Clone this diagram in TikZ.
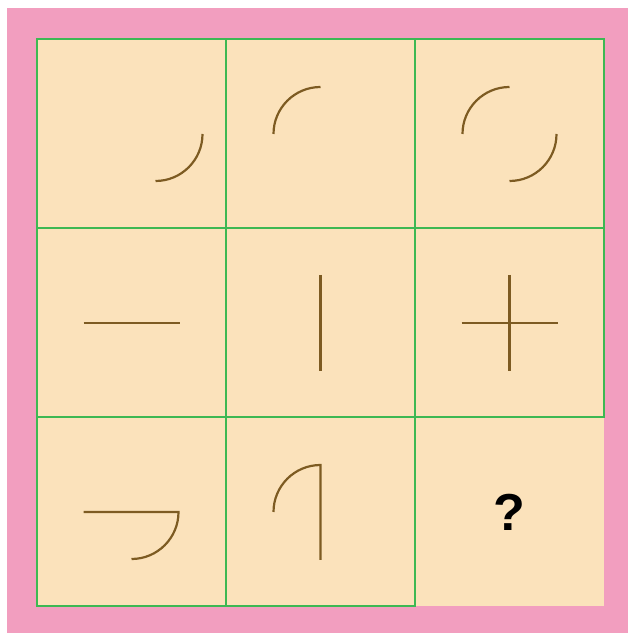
\documentclass[tikz,border=0pt]{standalone}
\usepackage{fontspec}
\newfontfamily\qfont{Liberation Sans}
\usetikzlibrary{positioning}

\definecolor{framepink}{HTML}{F29EBF}
\definecolor{cellbeige}{HTML}{FBE2BB}
\definecolor{gridgreen}{HTML}{3DB853}
\definecolor{penbrown}{HTML}{7D5B22}

\begin{document}
\begin{tikzpicture}[x=1pt, y=1pt,
  cell/.style={draw=gridgreen, line width=2pt, fill=cellbeige,
               minimum size=189pt, inner sep=0pt, outer sep=0pt},
  blank/.style={cell, draw=none},
  piece/.style={draw=penbrown, line width=2.2pt},
  qmark/.style={font=\qfont\bfseries\fontsize{52}{60}\selectfont}
]
  \useasboundingbox (0,0) rectangle (628,633);
  \fill[white] (0,0) rectangle (628,633);
  \fill[framepink] (7,0) rectangle (628,625);

  % the open cell goes first, its left and top edges come from its neighbours
  \node[blank] (c9) at (509.5,121.0) {};
  \node[cell]  (c1) at (131.5,499.0) {};
  \node[cell]  (c2) at (320.5,499.0) {};
  \node[cell]  (c3) at (509.5,499.0) {};
  \node[cell]  (c4) at (131.5,310.0) {};
  \node[cell]  (c5) at (320.5,310.0) {};
  \node[cell]  (c6) at (509.5,310.0) {};
  \node[cell]  (c7) at (131.5,121.0) {};
  \node[cell]  (c8) at (320.5,121.0) {};

  % row 1: arcs
  \draw[piece] ([xshift=24pt, yshift=-47pt]c1.center) arc[start angle=-90, end angle=0, radius=47];
  \draw[piece] ([xshift=-47pt]c2.center) arc[start angle=180, end angle=90, radius=47];
  \draw[piece] ([xshift=-47pt]c3.center) arc[start angle=180, end angle=90, radius=47];
  \draw[piece] ([yshift=-47pt]c3.center) arc[start angle=-90, end angle=0, radius=47];

  % row 2: strokes
  \draw[piece] ([xshift=-48pt]c4.center) -- ([xshift=48pt]c4.center);
  \draw[piece] ([yshift=48pt]c5.center) -- ([yshift=-48pt]c5.center);
  \draw[piece] ([xshift=-48pt]c6.center) -- ([xshift=48pt]c6.center);
  \draw[piece] ([yshift=48pt]c6.center) -- ([yshift=-48pt]c6.center);

  % row 3: mixed
  \draw[piece] ([xshift=-48pt]c7.center) -- ([xshift=47pt]c7.center)
    arc[start angle=0, end angle=-90, radius=47];
  \draw[piece] ([xshift=-47pt]c8.center) arc[start angle=180, end angle=90, radius=47]
    -- ++(0,-95);

  \node[qmark] (q) at (c9.center) {?};
\end{tikzpicture}
\end{document}
